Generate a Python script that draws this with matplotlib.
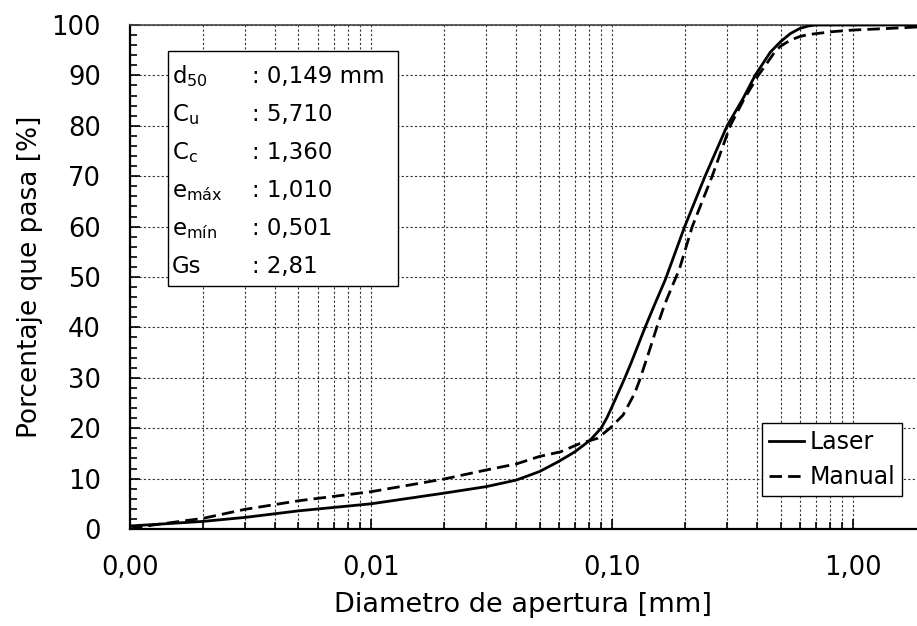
import matplotlib
matplotlib.use("Agg")
import matplotlib.pyplot as plt
from matplotlib.patches import Rectangle
from matplotlib.ticker import FixedLocator, NullFormatter

plt.rcParams['font.family'] = ['DejaVu Sans']
plt.rcParams['mathtext.fontset'] = 'dejavusans'

# curva laser (diametro mm, % que pasa)
laser_d = [0.001, 0.002, 0.003, 0.005, 0.01, 0.02, 0.03, 0.04, 0.05, 0.06,
           0.07, 0.081, 0.09, 0.095, 0.1, 0.113, 0.12, 0.137, 0.15, 0.166,
           0.2, 0.243, 0.3, 0.35, 0.392, 0.411, 0.453, 0.5, 0.549, 0.6,
           0.65, 0.7, 1.0, 1.84]
laser_p = [0.6, 1.5, 2.3, 3.6, 5.0, 7.1, 8.4, 9.7, 11.4, 13.4,
           15.3, 17.6, 20.0, 22.0, 24.3, 30.0, 33.0, 40.0, 44.5, 49.4,
           60.0, 70.0, 80.0, 85.5, 90.0, 91.5, 94.6, 96.7, 98.3, 99.3,
           99.8, 100.0, 100.0, 100.0]

# curva manual (tamizado)
manual_d = [0.001, 0.00125, 0.002, 0.003, 0.005, 0.01, 0.02, 0.03, 0.04, 0.05,
            0.061, 0.073, 0.087, 0.098, 0.111, 0.124, 0.130, 0.143, 0.153, 0.165,
            0.178, 0.19, 0.215, 0.260, 0.309, 0.35, 0.404, 0.44, 0.475, 0.5,
            0.549, 0.6, 0.65, 0.83, 1.0, 1.38, 1.84]
manual_p = [0.0, 0.8, 2.1, 3.9, 5.6, 7.4, 9.9, 11.7, 12.9, 14.4,
            15.3, 16.9, 18.0, 20.0, 22.6, 26.9, 29.5, 35.5, 39.9, 44.5,
            48.3, 51.5, 60.0, 70.0, 80.0, 85.0, 90.0, 92.5, 94.8, 95.8,
            97.0, 97.7, 98.1, 98.7, 99.0, 99.3, 99.6]

xticks = [0.001, 0.01, 0.1, 1.0]
xtick_labels = ['0,00', '0,01', '0,10', '1,00']

props_labels = [r'd$_{\mathregular{50}}$', r'C$_{\mathregular{u}}$', r'C$_{\mathregular{c}}$',
                r'e$_{\mathregular{máx}}$', r'e$_{\mathregular{mín}}$', 'Gs']
props_values = [': 0,149 mm', ': 5,710', ': 1,360', ': 1,010', ': 0,501', ': 2,81']

W, H = 917, 626
fig = plt.figure(figsize=(W / 100, H / 100), dpi=100)
ax = fig.add_axes([130 / W, 1 - 529 / H, (W - 130) / W, (529 - 25) / H])


def fx(px):
    return px / W


def fy(py):
    return 1 - py / H


ax.plot(laser_d, laser_p, color='black', lw=2.0, label='Laser', zorder=3)
ax.plot(manual_d, manual_p, color='black', lw=2.0, ls=(0, (4.5, 2.2)), label='Manual', zorder=3)

ax.set_xscale('log')
ax.set_xlim(0.001, 1.84)
ax.set_ylim(0, 100)

ax.xaxis.set_major_locator(FixedLocator(xticks))
ax.set_xticklabels(xtick_labels)
minor = [m * 10.0 ** e for e in (-3, -2, -1, 0) for m in range(2, 10)]
ax.xaxis.set_minor_locator(FixedLocator(minor))
ax.xaxis.set_minor_formatter(NullFormatter())
ax.set_yticks(range(0, 101, 10))
ax.set_yticks(range(0, 101, 2), minor=True)

ax.grid(True, which='both', axis='x', color='#333333', lw=0.8, ls=(0, (2, 2)))
ax.grid(True, which='major', axis='y', color='#333333', lw=0.8, ls=(0, (2, 2)))
ax.set_axisbelow(True)

ax.tick_params(which='both', direction='in', labelsize=18.5, width=1.2)
ax.tick_params(which='major', length=7)
ax.tick_params(which='minor', length=5)
ax.tick_params(axis='x', pad=19)
ax.tick_params(axis='y', pad=21)

for s in ['left', 'bottom']:
    ax.spines[s].set_linewidth(1.6)
ax.spines['right'].set_visible(False)
ax.spines['top'].set_color('#444444')
ax.spines['top'].set_linewidth(1.2)

ax.set_xlabel('Diametro de apertura [mm]', fontsize=19.5, labelpad=8)
ax.set_ylabel('Porcentaje que pasa [%]', fontsize=19, labelpad=6)

# cuadro de propiedades
box = Rectangle((fx(168), fy(286)), fx(398) - fx(168), fy(51) - fy(286),
                transform=fig.transFigure, facecolor='white', edgecolor='black',
                lw=1.0, zorder=5)
ax.add_patch(box)
for i, (lab, val) in enumerate(zip(props_labels, props_values)):
    yb = 82.7 + 38.1 * i
    fig.text(fx(172), fy(yb), lab, fontsize=16.5, va='baseline', ha='left', zorder=6)
    fig.text(fx(252), fy(yb), val, fontsize=16.5, va='baseline', ha='left', zorder=6)

leg = ax.legend(loc='lower right', bbox_to_anchor=(fx(902), fy(496)),
                bbox_transform=fig.transFigure, fontsize=17, frameon=True,
                fancybox=False, edgecolor='black', framealpha=1,
                handlelength=1.5, handletextpad=0.2, borderpad=0.3,
                labelspacing=0.45, borderaxespad=0)
leg.get_frame().set_linewidth(1.0)

fig.savefig('out.png', dpi=100)
